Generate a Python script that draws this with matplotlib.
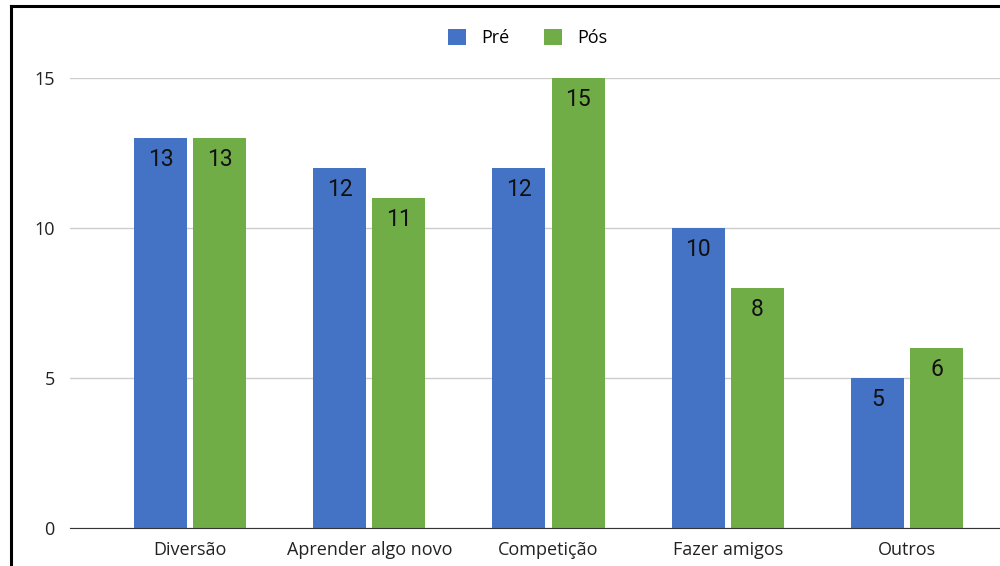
import matplotlib.pyplot as plt
import numpy as np
from matplotlib.lines import Line2D

categories = ["Diversão", "Aprender algo novo", "Competição", "Fazer amigos", "Outros"]
pre = [13, 12, 12, 10, 5]
pos = [13, 11, 15, 8, 6]
yticks = [0, 5, 10, 15]

blue = "#4472C4"
green = "#70AD47"

plt.rcParams['font.family'] = ['Open Sans', 'DejaVu Sans']

fig = plt.figure(figsize=(10, 5.66), dpi=100)
ax = fig.add_axes([0.07, 0.0671, 0.957, 0.795])

x = np.arange(len(categories))
w = 0.295
off = 0.165
b1 = ax.bar(x - off, pre, w, color=blue, label="Pré", zorder=3)
b2 = ax.bar(x + off, pos, w, color=green, label="Pós", zorder=3)

for bars in (b1, b2):
    for rect in bars:
        h = rect.get_height()
        ax.annotate(f"{h:g}", (rect.get_x() + rect.get_width() / 2, h),
                    xytext=(0, -10), textcoords="offset pixels",
                    ha="center", va="top", fontsize=16.5,
                    family=["Roboto", "DejaVu Sans"], color="#111111",
                    zorder=4)

ax.set_xlim(-0.67, 4.67)
ax.set_ylim(0, 15)
ax.set_yticks(yticks)
ax.set_xticks(x)
ax.set_xticklabels(categories, fontsize=13, color="#222222")
ax.tick_params(axis="y", labelsize=13, colors="#222222", length=0, pad=11)
ax.tick_params(axis="x", length=0, pad=9)
ax.grid(axis="y", color="#cccccc", linewidth=1, zorder=0)
for s in ["top", "right", "left"]:
    ax.spines[s].set_visible(False)
ax.spines["bottom"].set_color("#333333")
ax.spines["bottom"].set_zorder(5)

fig.legend(handles=[b1, b2], labels=["Pré", "Pós"], loc="center",
           bbox_to_anchor=(0.528, 0.933), ncol=2, frameon=False,
           fontsize=13, handlelength=1.0, handleheight=1.0,
           columnspacing=1.9, handletextpad=0.85)

fig.add_artist(Line2D([0.011, 0.011], [0, 0.99], color="black", linewidth=2.2,
                      transform=fig.transFigure))
fig.add_artist(Line2D([0.011, 1.0], [0.99, 0.99], color="black", linewidth=2.2,
                      transform=fig.transFigure))

plt.savefig("out.png", dpi=100)
